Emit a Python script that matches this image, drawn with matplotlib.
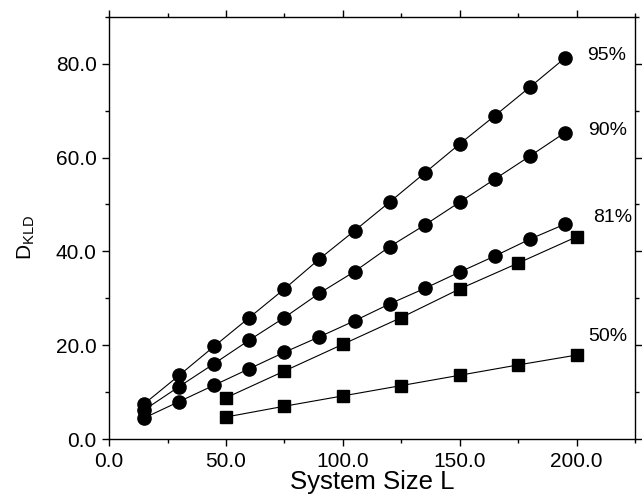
import matplotlib
matplotlib.use('Agg')
import matplotlib.pyplot as plt
from matplotlib.ticker import MultipleLocator, FormatStrFormatter

plt.rcParams['font.family'] = ['Liberation Sans', 'DejaVu Sans']
plt.rcParams['mathtext.fontset'] = 'custom'
plt.rcParams['mathtext.rm'] = 'Liberation Sans'

# system sizes
L_circ = [15, 30, 45, 60, 75, 90, 105, 120, 135, 150, 165, 180, 195]
L_sq = [50, 75, 100, 125, 150, 175, 200]

# D_KLD for each threshold
d95 = [7.5, 13.6, 19.8, 25.9, 32.0, 38.4, 44.4, 50.5, 56.7, 62.9, 68.9, 75.0, 81.2]
d90 = [6.2, 11.2, 16.1, 21.1, 25.9, 31.1, 35.7, 41.0, 45.6, 50.5, 55.4, 60.3, 65.3]
d81 = [4.5, 8.0, 11.5, 15.0, 18.5, 21.8, 25.2, 28.8, 32.1, 35.6, 39.0, 42.6, 45.8]
d81_sq = [8.8, 14.5, 20.2, 25.9, 32.0, 37.5, 43.1]
d50_sq = [4.7, 7.0, 9.2, 11.4, 13.6, 15.8, 17.9]

labels = ['95%', '90%', '81%', '50%']
label_xy = [(204.7, 80.8), (205.0, 64.8), (207.3, 46.3), (205.0, 21.0)]

fig = plt.figure(figsize=(6.42, 4.95), dpi=100)
ax = fig.add_axes([0.170, 0.113, 0.819, 0.853])

for d in (d95, d90, d81):
    ax.plot(L_circ, d, '-o', color='black', lw=0.8, ms=9.5)
for d in (d81_sq, d50_sq):
    ax.plot(L_sq, d, '-s', color='black', lw=0.8, ms=8)

for lab, (x, y) in zip(labels, label_xy):
    ax.text(x, y, lab, fontsize=14, va='baseline')

ax.set_xlim(0, 225)
ax.set_ylim(0, 90)
ax.xaxis.set_major_locator(MultipleLocator(50))
ax.xaxis.set_minor_locator(MultipleLocator(25))
ax.yaxis.set_major_locator(MultipleLocator(20))
ax.yaxis.set_minor_locator(MultipleLocator(10))
ax.xaxis.set_major_formatter(FormatStrFormatter('%.1f'))
ax.yaxis.set_major_formatter(FormatStrFormatter('%.1f'))
ax.tick_params(which='both', direction='out', top=True, right=True, width=1, labelsize=15)
ax.tick_params(which='major', length=5, pad=4)
ax.tick_params(which='minor', length=3)
for s in ax.spines.values():
    s.set_linewidth(1.0)

# axis titles placed by hand to fit the tight bottom margin
fig.text(0.58, 0.012, 'System Size L', fontsize=18.5, ha='center', va='baseline')
fig.text(0.041, 0.52, r'D$_{\mathrm{KLD}}$', fontsize=15, rotation=90,
         ha='center', va='center')

fig.savefig('out.png', dpi=100)
